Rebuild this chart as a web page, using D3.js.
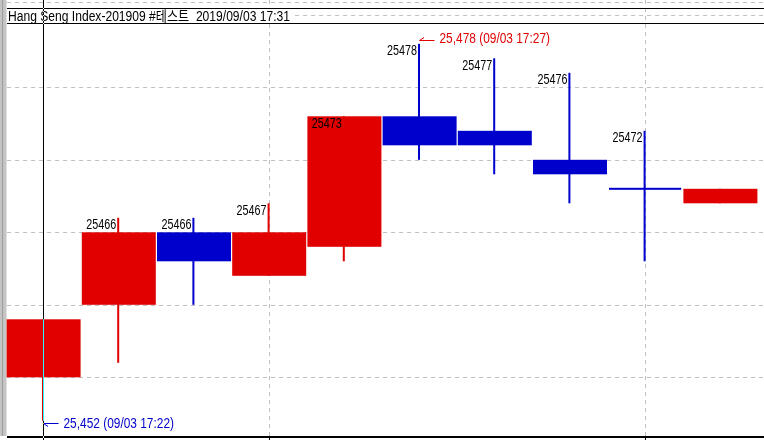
<!DOCTYPE html>
<html>
<head>
<meta charset="utf-8">
<script src="https://cdn.jsdelivr.net/npm/d3@7"></script>
<style>
    body { margin: 0; background: #fff; }
    svg { display: block; }
    text { font-family: "Liberation Sans", "Noto Sans CJK KR", sans-serif; font-size: 14px; white-space: pre; }
</style>
</head>
<body>
<div id="chart"></div>
<script>
// one-minute candles, 09/03 17:22 .. 17:31
var times    = ['17:22', '17:23', '17:24', '17:25', '17:26', '17:27', '17:28', '17:29', '17:30', '17:31'];
var opens    = [25455, 25460, 25465, 25462, 25464, 25473, 25472, 25470, 25468, 25467];
var highs    = [25459, 25466, 25466, 25467, 25473, 25478, 25477, 25476, 25472, 25468];
var lows     = [25452, 25456, 25460, 25462, 25463, 25470, 25469, 25467, 25463, 25467];
var closes   = [25459, 25465, 25463, 25465, 25473, 25471, 25471, 25469, 25468, 25468];
var showHigh = [false, true, true, true, true, true, true, true, true, false];
var yTicks   = [25455, 25460, 25465, 25470, 25475, 25480];
var xTicks   = ['17:25', '17:30'];
var day      = '09/03';
var title    = 'Hang Seng Index-201909 #테스트  2019/09/03 17:31';

(function () {
    let width = 764, height = 440,
        upColor = '#e00000', downColor = '#0000cc', gridColor = '#c0c0c0',
        left = 7, bottom = 437;

    let candles = times.map(function (t, i) {
        return { i: i, time: t, open: opens[i], high: highs[i], low: lows[i], close: closes[i], label: showHigh[i] };
    });

    let x = d3.scaleBand().domain(d3.range(times.length)).range([5.4, 757.4]),
        y = d3.scaleLinear().domain([yTicks[0], yTicks[yTicks.length - 1]]).range([377.3, 14.8]),
        cx = function (i) { return x(i) + x.bandwidth() / 2; };

    function colorOf(d, i) {
        if (d.close > d.open) return upColor;
        if (d.close < d.open) return downColor;
        // doji keeps the colour of the candle before it
        return i > 0 ? colorOf(candles[i - 1], i - 1) : upColor;
    }

    // the chart font is a narrow bitmap one, squeeze the glyphs to match
    function squeeze(sel, k) {
        sel.each(function () {
            let w = this.getComputedTextLength();
            d3.select(this).attr('textLength', w * k).attr('lengthAdjust', 'spacingAndGlyphs');
        });
    }

    let svg = d3.select('#chart').append('svg')
        .attr('width', width).attr('height', height);

    svg.append('rect').attr('width', width).attr('height', height).attr('fill', '#fff');

    // left grey strip
    svg.append('rect').attr('x', 0).attr('y', 0).attr('width', 6.5).attr('height', 436).attr('fill', '#c4c4c4');
    svg.append('rect').attr('x', 2).attr('y', 0).attr('width', 1).attr('height', 436).attr('fill', '#9c9c9c');

    // grid
    let grid = svg.append('g').attr('stroke', gridColor).attr('stroke-dasharray', '4,4').attr('stroke-width', 1);
    grid.selectAll('line.h').data(yTicks).enter().append('line').attr('class', 'h')
        .attr('x1', left).attr('x2', width)
        .attr('y1', function (d) { return Math.round(y(d)) + 0.5; })
        .attr('y2', function (d) { return Math.round(y(d)) + 0.5; });
    grid.append('line').attr('x1', left).attr('x2', width).attr('y1', 2.5).attr('y2', 2.5);
    grid.selectAll('line.v').data(xTicks).enter().append('line').attr('class', 'v')
        .attr('x1', function (d) { return Math.round(cx(times.indexOf(d))) + 0.5; })
        .attr('x2', function (d) { return Math.round(cx(times.indexOf(d))) + 0.5; })
        .attr('y1', 0).attr('y2', bottom);

    // title band
    svg.append('line').attr('x1', left).attr('x2', width).attr('y1', 8.5).attr('y2', 8.5).attr('stroke', '#000');
    svg.append('line').attr('x1', left).attr('x2', width).attr('y1', 23.5).attr('y2', 23.5).attr('stroke', '#000');
    let titleBox = svg.append('rect').attr('x', left).attr('y', 9).attr('height', 14).attr('fill', '#fff');
    let titleText = svg.append('text').attr('x', 8).attr('y', 20.8).attr('fill', '#000').text(title);
    titleText.attr('textLength', 282).attr('lengthAdjust', 'spacingAndGlyphs');
    titleBox.attr('width', 286);

    // candles
    let g = svg.selectAll('g.candle').data(candles).enter().append('g').attr('class', 'candle');

    g.append('rect')
        .attr('x', function (d) { return cx(d.i) - 1; })
        .attr('width', 2)
        .attr('y', function (d) { return y(d.high); })
        .attr('height', function (d) { return y(d.low) - y(d.high); })
        .attr('fill', function (d) { return colorOf(d, d.i); });

    g.append('rect')
        .attr('x', function (d) { return x(d.i) + (d.open === d.close ? 2 : 1.2); })
        .attr('width', function (d) { return x.bandwidth() - (d.open === d.close ? 3 : 1.2); })
        .attr('y', function (d) { return d.open === d.close ? y(d.close) - 1 : y(Math.max(d.open, d.close)); })
        .attr('height', function (d) { return d.open === d.close ? 2 : Math.abs(y(d.open) - y(d.close)); })
        .attr('fill', function (d) { return colorOf(d, d.i); });

    let labels = g.filter(function (d) { return d.label; }).append('text')
        .attr('x', function (d) { return cx(d.i) - 2; })
        .attr('y', function (d) { return y(d.high) + 11.3; })
        .attr('text-anchor', 'end')
        .attr('fill', '#000')
        .text(function (d) { return d.high; });
    squeeze(labels, 0.77);

    // max / min markers
    let fmt = d3.format(','),
        hiIdx = d3.maxIndex(highs), loIdx = d3.minIndex(lows),
        marks = [
            { i: hiIdx, v: highs[hiIdx], dy: -3.5, tick: -3, textDy: -0.8, color: upColor },
            { i: loIdx, v: lows[loIdx], dy: 2.5, tick: 3, textDy: 7, color: downColor }
        ];

    let m = svg.selectAll('g.mark').data(marks).enter().append('g').attr('class', 'mark')
        .attr('stroke', function (d) { return d.color; })
        .attr('fill', function (d) { return d.color; });
    m.append('line')
        .attr('x1', function (d) { return cx(d.i) + 0.5; })
        .attr('x2', function (d) { return cx(d.i) + 15.5; })
        .attr('y1', function (d) { return Math.round(y(d.v) + d.dy) + 0.5; })
        .attr('y2', function (d) { return Math.round(y(d.v) + d.dy) + 0.5; });
    m.append('line')
        .attr('x1', function (d) { return cx(d.i) + 0.5; })
        .attr('x2', function (d) { return cx(d.i) + 5; })
        .attr('y1', function (d) { return Math.round(y(d.v) + d.dy) + 0.5; })
        .attr('y2', function (d) { return Math.round(y(d.v) + d.dy) + 0.5 + d.tick; });
    let markText = m.append('text')
        .attr('stroke', 'none')
        .attr('x', function (d) { return cx(d.i) + 20.5; })
        .attr('y', function (d) { return y(d.v) + d.textDy; })
        .text(function (d) { return fmt(d.v) + ' (' + day + ' ' + times[d.i] + ')'; });
    squeeze(markText, 0.85);

    // bottom axis line and ticks
    svg.append('line').attr('x1', left).attr('x2', width).attr('y1', bottom).attr('y2', bottom)
        .attr('stroke', '#000').attr('stroke-width', 2);
    svg.selectAll('line.tick').data(xTicks).enter().append('line').attr('class', 'tick')
        .attr('x1', function (d) { return Math.round(cx(times.indexOf(d))) + 0.5; })
        .attr('x2', function (d) { return Math.round(cx(times.indexOf(d))) + 0.5; })
        .attr('y1', bottom).attr('y2', height)
        .attr('stroke', '#000');

    // cross-hair cursor (inverted like an xor pen)
    svg.append('line')
        .attr('x1', Math.round(cx(loIdx)) + 0.5).attr('x2', Math.round(cx(loIdx)) + 0.5)
        .attr('y1', 0).attr('y2', height)
        .attr('stroke', '#fff')
        .style('mix-blend-mode', 'difference');
})();
</script>
</body>
</html>
